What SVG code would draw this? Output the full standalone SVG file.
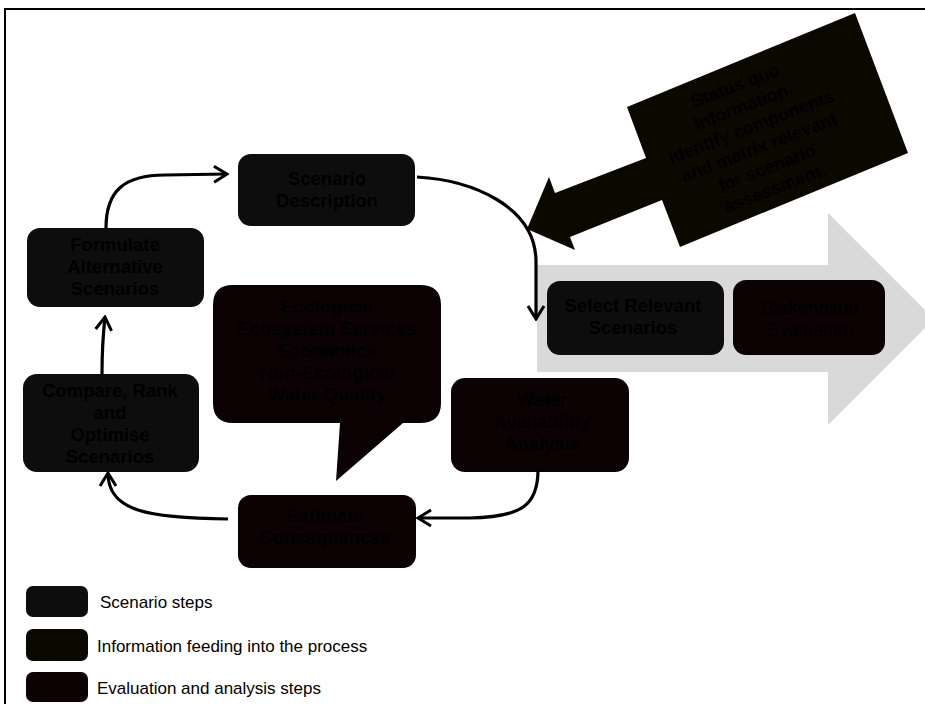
<svg xmlns="http://www.w3.org/2000/svg" width="925" height="704" viewBox="0 0 925 704">
<defs>
<style>
.t{font-family:"Liberation Sans",Arial,sans-serif;font-size:18.5px;font-weight:bold;fill:#000;text-anchor:middle}
.tr{font-family:"Liberation Sans",Arial,sans-serif;font-size:18.5px;fill:#000;text-anchor:middle}
.lg{font-family:"Liberation Sans",Arial,sans-serif;font-size:17px;fill:#000}
.scn{fill:#0d0d0d}
.eva{fill:#0c0204}
.inf{fill:#0b0800}
.con{fill:none;stroke:#000;stroke-width:3.2}
</style>
<marker id="ah" viewBox="-16 -10 18 20" refX="0" refY="0" markerWidth="18" markerHeight="20" markerUnits="userSpaceOnUse" orient="auto">
<path d="M-13,-8 L0,0 L-13,8" fill="none" stroke="#000" stroke-width="3"/>
</marker>
</defs>
<rect width="925" height="704" fill="#fff"/>
<path d="M5,704 L5,9 L925,9" fill="none" stroke="#000" stroke-width="2"/>

<g id="flow-arrow">
<polygon points="537,265 828,265 828,213 934,319 828,425 828,372 537,372" fill="#d9d9d9"/>
</g>

<g id="status-quo">
<polygon class="inf" points="627,107 855,13 908,153 680,247 662,200 570,237 575,250 527,229 549,177 555,193 646,158"/>
<g transform="translate(755,137) rotate(-21)">
<text class="t" x="0" y="-49" style="font-size:18px">Status quo</text>
<text class="t" x="0" y="-27" style="font-size:18px">Information.</text>
<text class="t" x="0" y="-5" style="font-size:18px">Identify components</text>
<text class="t" x="0" y="17" style="font-size:18px">and metrix relevant</text>
<text class="t" x="0" y="39" style="font-size:18px">for scenario</text>
<text class="t" x="0" y="61" style="font-size:18px">assessment.</text>
</g>
</g>

<g id="scenario-description">
<rect class="scn" x="238" y="154" width="177" height="72" rx="13"/>
<text class="t" x="327" y="185">Scenario</text>
<text class="t" x="327" y="207">Description</text>
</g>

<g id="formulate">
<rect class="scn" x="27" y="228" width="177" height="79" rx="13"/>
<text class="t" x="115" y="251">Formulate</text>
<text class="t" x="115" y="273">Alternative</text>
<text class="t" x="115" y="295">Scenarios</text>
</g>

<g id="compare">
<rect class="scn" x="23" y="374" width="176" height="98" rx="14"/>
<text class="t" x="110" y="397">Compare, Rank</text>
<text class="t" x="110" y="419">and</text>
<text class="t" x="110" y="441">Optimise</text>
<text class="t" x="110" y="463">Scenarios</text>
</g>

<g id="criteria-bubble">
<path class="eva" d="M233,285 H420 Q441,285 441,305 V403 Q441,423 420,423 H403 L336,481 L340,423 H233 Q213,423 213,403 V305 Q213,285 233,285 Z"/>
<text class="t" x="327" y="313">Ecological</text>
<text class="t" x="327" y="335">Ecosystem Services</text>
<text class="t" x="327" y="357">Economics</text>
<text class="t" x="327" y="379">Non-Ecological</text>
<text class="t" x="327" y="401">Water Quality</text>
</g>

<g id="water">
<rect class="eva" x="451" y="378" width="178" height="94" rx="14"/>
<text class="t" x="542" y="406">Water</text>
<text class="t" x="542" y="428">Availability</text>
<text class="t" x="542" y="450">Analysis</text>
</g>

<g id="estimate">
<rect class="eva" x="238" y="495" width="178" height="73" rx="13"/>
<text class="t" x="325" y="522">Estimate</text>
<text class="t" x="325" y="544">Consequences</text>
</g>

<g id="select">
<rect class="scn" x="547" y="281" width="177" height="74" rx="13"/>
<text class="t" x="633" y="312">Select Relevant</text>
<text class="t" x="633" y="334">Scenarios</text>
</g>

<g id="stakeholder">
<rect class="eva" x="733" y="280" width="152" height="75" rx="13"/>
<text class="tr" x="810" y="314">Stakeholder</text>
<text class="tr" x="810" y="336">Evaluation</text>
</g>

<g id="connectors">
<path class="con" marker-end="url(#ah)" d="M106,228 C106,190 125,175 165,175 L227,174"/>
<path class="con" marker-end="url(#ah)" d="M102,374 C102,350 103,335 105,317"/>
<path class="con" marker-end="url(#ah)" d="M228,519 C150,518 108,512 108,473"/>
<path class="con" marker-end="url(#ah)" d="M538,470 C538,505 522,517 470,518 L418,518"/>
<path class="con" marker-end="url(#ah)" d="M417,177 C470,180 536,205 536,262 L536,319"/>
</g>

<g id="legend">
<rect class="scn" x="26" y="586" width="62" height="31" rx="7"/>
<rect class="inf" x="26" y="629" width="62" height="32" rx="7"/>
<rect class="eva" x="26" y="672" width="62" height="30" rx="7"/>
<text class="lg" x="100" y="608">Scenario steps</text>
<text class="lg" x="97" y="652">Information feeding into the process</text>
<text class="lg" x="97" y="694">Evaluation and analysis steps</text>
</g>
</svg>
